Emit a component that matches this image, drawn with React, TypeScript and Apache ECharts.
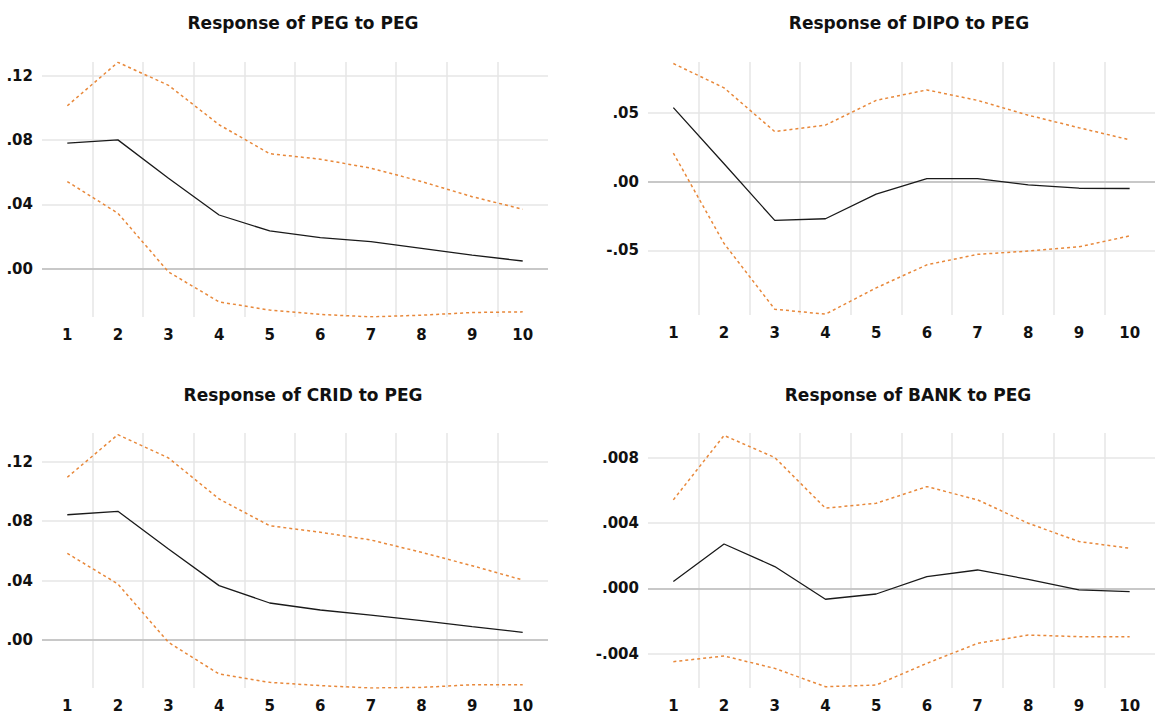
import React, { useEffect, useRef } from "react";
import * as echarts from "echarts";

const periods = ["1", "2", "3", "4", "5", "6", "7", "8", "9", "10"];

const titles = [
  "Response of PEG to PEG",
  "Response of DIPO to PEG",
  "Response of CRID to PEG",
  "Response of BANK to PEG",
];

// Response of PEG to PEG
const pegResponse = [0.0781, 0.0801, 0.0563, 0.0334, 0.0235, 0.0193, 0.0168, 0.0127, 0.0085, 0.0048];
const pegUpper = [0.1013, 0.1283, 0.1140, 0.0895, 0.0715, 0.0681, 0.0625, 0.0542, 0.0448, 0.0370];
const pegLower = [0.0542, 0.0345, -0.0020, -0.0206, -0.0257, -0.0284, -0.0299, -0.0289, -0.0272, -0.0268];

// Response of DIPO to PEG
const dipoResponse = [0.0538, 0.0130, -0.0282, -0.0270, -0.0091, 0.0022, 0.0022, -0.0024, -0.0048, -0.0050];
const dipoUpper = [0.0859, 0.0682, 0.0364, 0.0411, 0.0591, 0.0667, 0.0591, 0.0483, 0.0392, 0.0304];
const dipoLower = [0.0208, -0.0450, -0.0928, -0.0964, -0.0773, -0.0605, -0.0529, -0.0505, -0.0474, -0.0395];

// Response of CRID to PEG
const cridResponse = [0.0843, 0.0866, 0.0612, 0.0366, 0.0249, 0.0202, 0.0168, 0.0130, 0.0090, 0.0052];
const cridUpper = [0.1095, 0.1382, 0.1225, 0.0949, 0.0769, 0.0725, 0.0673, 0.0590, 0.0500, 0.0404];
const cridLower = [0.0583, 0.0377, -0.0016, -0.0229, -0.0285, -0.0307, -0.0323, -0.0319, -0.0301, -0.0301];

// Response of BANK to PEG
const bankResponse = [0.00041, 0.00271, 0.00133, -0.00067, -0.00035, 0.00071, 0.00112, 0.00055, -0.0001, -0.0002];
const bankUpper = [0.00541, 0.00935, 0.0080, 0.0049, 0.0052, 0.00622, 0.00541, 0.00398, 0.00286, 0.00245];
const bankLower = [-0.00449, -0.00414, -0.0049, -0.00602, -0.00592, -0.00459, -0.00337, -0.00286, -0.00296, -0.00296];

// y-axis tick step and decimals per panel
const tickSteps = [0.04, 0.05, 0.04, 0.004];
const tickDecimals = [2, 2, 2, 3];
const yMins = [-0.030, -0.097, -0.0323, -0.0061];
const yMaxs = [0.1285, 0.087, 0.1393, 0.0095];

const responses = [pegResponse, dipoResponse, cridResponse, bankResponse];
const uppers = [pegUpper, dipoUpper, cridUpper, bankUpper];
const lowers = [pegLower, dipoLower, cridLower, bankLower];

const FONT = "DejaVu Sans";
const GRID_COLOR = "#e6e6e6";
const BAND_COLOR = "#E8883A";

const fmt = (v: number, d: number) => {
  const s = v.toFixed(d);
  return s.replace(/^(-?)0\./, "$1.");
};

export default function App() {
  const ref = useRef<HTMLDivElement>(null);

  useEffect(() => {
    if (!ref.current) return;
    const chart = echarts.init(ref.current, undefined, { renderer: "svg" });

    const layout = [
      { left: 42, top: 62, width: 506, height: 255, titleX: 298, titleY: 9 },
      { left: 648, top: 62, width: 511, height: 253, titleX: 904, titleY: 9 },
      { left: 42, top: 433, width: 506, height: 255, titleX: 298, titleY: 381 },
      { left: 648, top: 433, width: 511, height: 255, titleX: 903, titleY: 381 },
    ];

    const grid = layout.map((l) => ({
      left: l.left,
      top: l.top,
      width: l.width,
      height: l.height,
      containLabel: false,
    }));

    const title = layout.map((l, i) => ({
      text: titles[i],
      left: l.titleX,
      top: l.titleY,
      textAlign: "center",
      textStyle: {
        fontFamily: FONT,
        fontWeight: "bold",
        fontSize: 17,
        color: "#111",
      },
    }));

    const xAxis = layout.map((_, i) => ({
      type: "category",
      gridIndex: i,
      data: periods,
      boundaryGap: true,
      axisLine: { show: false },
      axisTick: { show: false },
      axisLabel: {
        interval: 0,
        margin: 10,
        fontFamily: FONT,
        fontWeight: "bold",
        fontSize: 15,
        color: "#111",
      },
      splitLine: {
        show: true,
        interval: 0,
        showMinLine: false,
        showMaxLine: false,
        lineStyle: { color: GRID_COLOR, width: 1.5 },
      },
    }));

    const yAxis = layout.map((_, i) => ({
      type: "value",
      gridIndex: i,
      min: yMins[i],
      max: yMaxs[i],
      splitNumber: 4,
      minInterval: tickSteps[i],
      maxInterval: tickSteps[i],
      axisLine: { show: false },
      axisTick: { show: false },
      axisLabel: {
        showMinLabel: false,
        showMaxLabel: false,
        margin: 9,
        fontFamily: FONT,
        fontWeight: "bold",
        fontSize: 15,
        color: "#111",
        formatter: (v: number) => fmt(v, tickDecimals[i]),
      },
      splitLine: {
        show: true,
        showMinLine: false,
        showMaxLine: false,
        lineStyle: { color: GRID_COLOR, width: 1.5 },
      },
    }));

    const series: any[] = [];
    layout.forEach((_, i) => {
      series.push({
        type: "line",
        xAxisIndex: i,
        yAxisIndex: i,
        data: uppers[i],
        symbol: "none",
        lineStyle: { color: BAND_COLOR, width: 1.5, type: [3, 3] },
        z: 3,
      });
      series.push({
        type: "line",
        xAxisIndex: i,
        yAxisIndex: i,
        data: lowers[i],
        symbol: "none",
        lineStyle: { color: BAND_COLOR, width: 1.5, type: [3, 3] },
        z: 3,
      });
      series.push({
        type: "line",
        xAxisIndex: i,
        yAxisIndex: i,
        data: responses[i],
        symbol: "none",
        lineStyle: { color: "#1a1a1a", width: 1.3 },
        z: 4,
        markLine: {
          silent: true,
          symbol: "none",
          label: { show: false },
          lineStyle: { color: "#bdbdbd", width: 1.5, type: "solid" },
          data: [{ yAxis: 0 }],
          z: 2,
        },
      });
    });

    chart.setOption({
      animation: false,
      backgroundColor: "#ffffff",
      title,
      grid,
      xAxis,
      yAxis,
      series,
    });

    return () => {
      chart.dispose();
    };
  }, []);

  return (
    <div
      ref={ref}
      style={{
        position: "absolute",
        left: 0,
        top: 0,
        width: 1155,
        height: 720,
        background: "#ffffff",
      }}
    />
  );
}
